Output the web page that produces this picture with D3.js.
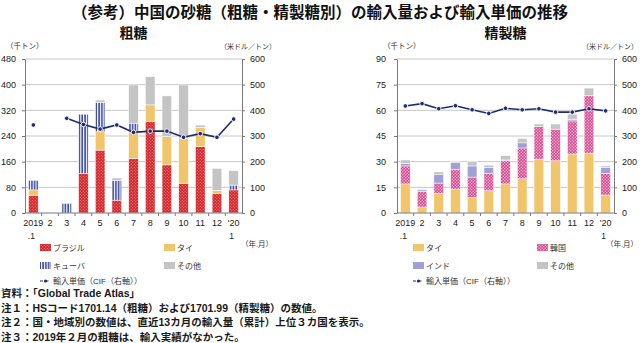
<!DOCTYPE html>
<html><head><meta charset="utf-8">
<script src="https://cdn.jsdelivr.net/npm/d3@7"></script>
<style>
body{margin:0;background:#fff}
svg{display:block;font-family:"Liberation Sans","Noto Sans CJK JP",sans-serif}
</style>
</head><body><svg width="640" height="343"></svg>
<script>
// ---------- DATA ----------
const months = ["2019.1","2","3","4","5","6","7","8","9","10","11","12","'20.1"];
const xLabelTop = ["2019","2","3","4","5","6","7","8","9","10","11","12","'20"];
const xLabelBottom = [".1","","","","","","","","","","","","1"];

// 粗糖 (千トン)
const rawBrazil = [55,0,0,124,196,40,170,285,150,93,207,61,72];
const rawThai   = [17,0,0,0,57,0,83,52,88,140,60,10,0];
const rawCuba   = [30,0,30,184,92,62,27,0,0,0,0,0,15];
const rawOther  = [0,0,0,0,7,7,119,88,127,166,7,68,45];
const rawPrice  = [343,null,369,345,327,343,314,319,319,295,309,295,366]; // 米ドル/トン

// 精製糖 (千トン)
const refThai  = [17,3.5,11.5,14,9,13,17,20,31.5,30.5,34.5,35,10.5];
const refKorea = [10.5,9,6,11.5,12,10,13.5,18,19,18.5,19.3,33.5,12.7];
const refIndia = [1.5,1,5,4,6.5,3.5,0.5,3,0,0,1,0,3.5];
const refOther = [2,0.5,1.5,0.5,2.5,1.5,2.5,2.5,1.5,3,3,4.5,0.8];
const refPrice = [417,426,406,418,402,388,408,402,406,393,393,406,398];

const rawLeftTicks = [0,80,160,240,320,400,480];
const refLeftTicks = [0,15,30,45,60,75,90];
const priceTicks = [0,100,200,300,400,500,600];

const notes = [
  "資料：「Global Trade Atlas」",
  "注１：HSコード1701.14（粗糖）および1701.99（精製糖）の数値。",
  "注２：国・地域別の数値は、直近13カ月の輸入量（累計）上位３カ国を表示。",
  "注３：2019年２月の粗糖は、輸入実績がなかった。"
];

// ---------- DRAW ----------
const svg = d3.select("svg");
const defs = svg.append("defs");
const COL = {thai:"#f1c56c", other:"#c4c4c4", india:"#9fa0d8", line:"#1f2d6e"};

let p = defs.append("pattern").attr("id","pBrazil").attr("width",3).attr("height",3).attr("patternUnits","userSpaceOnUse");
p.append("rect").attr("width",3).attr("height",3).attr("fill","#d3262b");
p.append("circle").attr("cx",0.75).attr("cy",0.75).attr("r",0.55).attr("fill","#f29a9a");
p.append("circle").attr("cx",2.25).attr("cy",2.25).attr("r",0.55).attr("fill","#f29a9a");

p = defs.append("pattern").attr("id","pKorea").attr("width",3).attr("height",3).attr("patternUnits","userSpaceOnUse");
p.append("rect").attr("width",3).attr("height",3).attr("fill","#d7428c");
p.append("circle").attr("cx",0.75).attr("cy",0.75).attr("r",0.7).attr("fill","#fbd3e6");
p.append("circle").attr("cx",2.25).attr("cy",2.25).attr("r",0.7).attr("fill","#fbd3e6");

p = defs.append("pattern").attr("id","pCuba").attr("width",2.8).attr("height",3).attr("patternUnits","userSpaceOnUse");
p.append("rect").attr("width",2.8).attr("height",3).attr("fill","#ffffff");
p.append("rect").attr("x",0.3).attr("width",1.5).attr("height",3).attr("fill","#2b3b9c");

const Y0 = 213, Y1 = 59;

function drawChart(opt){
  const g = svg.append("g");
  const x = d3.scaleBand().domain(months).range([opt.x0, opt.x1]).paddingInner(0.42).paddingOuter(0.21);
  const yL = d3.scaleLinear().domain([0, opt.lTicks[opt.lTicks.length-1]]).range([Y0, Y1]);
  const yR = d3.scaleLinear().domain([0, 600]).range([Y0, Y1]);

  // grid
  g.append("g").selectAll("line").data(opt.lTicks.filter(d=>d>0)).join("line")
    .attr("x1", opt.x0).attr("x2", opt.x1)
    .attr("y1", d=>yL(d)).attr("y2", d=>yL(d))
    .attr("stroke","#c6c6c6").attr("stroke-width",1);

  // stacked bars
  const rows = months.map((m,i)=>{
    const r = {month:m};
    opt.series.forEach(s=>r[s.key]=s.values[i]);
    return r;
  });
  const stacked = d3.stack().keys(opt.series.map(s=>s.key))(rows);
  stacked.forEach((layer,li)=>{
    g.append("g").selectAll("rect").data(layer.filter(d=>d[1]-d[0]>0)).join("rect")
      .attr("x", d=>x(d.data.month)).attr("width", x.bandwidth())
      .attr("y", d=>yL(d[1])).attr("height", d=>yL(d[0])-yL(d[1]))
      .attr("fill", opt.series[li].fill)
      .attr("stroke","#fff").attr("stroke-width",0.5);
  });

  // axes
  const ax = g.append("g").attr("transform",`translate(${opt.x0},0)`)
    .call(d3.axisLeft(yL).tickValues(opt.lTicks).tickSize(3).tickSizeOuter(0).tickPadding(opt.lPad));
  const axR = g.append("g").attr("transform",`translate(${opt.x1},0)`)
    .call(d3.axisRight(yR).tickValues(priceTicks).tickSize(3).tickSizeOuter(0).tickPadding(5));
  [ax,axR].forEach(a=>{
    a.select(".domain").attr("stroke","#7a7a7a");
    a.selectAll(".tick line").attr("stroke","#7a7a7a");
    a.selectAll("text").attr("font-size",9).attr("fill","#222")
      .attr("font-family","Liberation Sans, Arial, sans-serif");
  });

  // x axis line + ticks
  g.append("line").attr("x1",opt.x0).attr("x2",opt.x1).attr("y1",Y0).attr("y2",Y0).attr("stroke","#7a7a7a");
  const step = x.step();
  g.append("g").selectAll("line").data(months.slice(1)).join("line")
    .attr("x1", d=>x(d)-step*x.paddingInner()/2).attr("x2", d=>x(d)-step*x.paddingInner()/2)
    .attr("y1",Y0).attr("y2",Y0+3).attr("stroke","#7a7a7a");
  g.append("g").selectAll("text").data(months).join("text")
    .attr("x", d=>x(d)+x.bandwidth()/2).attr("y",226)
    .attr("text-anchor","middle").attr("font-size",9).attr("fill","#222")
    .text((d,i)=>xLabelTop[i]);
  g.append("g").selectAll("text").data(months).join("text")
    .attr("x", d=>x(d)+x.bandwidth()/2 - 2).attr("y",239)
    .attr("text-anchor","middle").attr("font-size",8.5).attr("fill","#222")
    .text((d,i)=>xLabelBottom[i]);

  // unit labels
  g.append("text").attr("x",opt.unitL).attr("y",49).attr("font-size",7.5).attr("fill","#333").text("（千トン）");
  g.append("text").attr("x",opt.unitRX).attr("y",49).attr("font-size",7).attr("fill","#333")
    .attr("text-anchor",opt.unitAnchor).text("（米ドル／トン）");
  g.append("text").attr("x",opt.ymX).attr("y",247).attr("font-size",7.5).attr("fill","#333")
    .attr("text-anchor",opt.unitAnchor).text("（年.月）");

  // subtitle
  g.append("text").attr("x",(opt.x0+opt.x1)/2).attr("y",38).attr("text-anchor","middle")
    .attr("font-size",14).attr("font-weight","bold").attr("fill","#111")
    .attr("font-family","Noto Sans CJK JP, sans-serif").text(opt.title);

  // price line
  const pts = months.map((m,i)=>({m, v:opt.price[i]}));
  g.append("path").datum(pts)
    .attr("d", d3.line().defined(d=>d.v!=null).x(d=>x(d.m)+x.bandwidth()/2).y(d=>yR(d.v)))
    .attr("fill","none").attr("stroke",COL.line).attr("stroke-width",1.6);
  g.append("g").selectAll("circle").data(pts.filter(d=>d.v!=null)).join("circle")
    .attr("cx", d=>x(d.m)+x.bandwidth()/2).attr("cy", d=>yR(d.v)).attr("r",2.3)
    .attr("fill",COL.line).attr("stroke","#fff").attr("stroke-width",0.9);

  // legend
  const lg = g.append("g").attr("font-size",8).attr("fill","#333");
  opt.legend.forEach((s,i)=>{
    const lx = opt.legX + (i%2)*124, ly = 244 + Math.floor(i/2)*18;
    lg.append("rect").attr("x",lx).attr("y",ly).attr("width",11).attr("height",7).attr("fill",s.fill);
    lg.append("text").attr("x",lx+13).attr("y",ly+7).text(s.name);
  });
  const ly3 = 281;
  lg.append("line").attr("x1",opt.legX).attr("x2",opt.legX+11).attr("y1",ly3).attr("y2",ly3)
    .attr("stroke",COL.line).attr("stroke-width",1.2).attr("stroke-dasharray","3,2.5");
  lg.append("circle").attr("cx",opt.legX+5.5).attr("cy",ly3).attr("r",1.6).attr("fill",COL.line);
  lg.append("text").attr("x",opt.legX+13).attr("y",ly3+3).text("輸入単価（CIF（右軸））");
}

drawChart({
  x0:25, x1:242, lTicks:rawLeftTicks, lPad:6, unitL:6, title:"粗糖", price:rawPrice, legX:40,
  unitRX:248, ymX:257, unitAnchor:"middle",
  series:[
    {key:"brazil", name:"ブラジル", values:rawBrazil, fill:"url(#pBrazil)"},
    {key:"thai", name:"タイ", values:rawThai, fill:COL.thai},
    {key:"cuba", name:"キューバ", values:rawCuba, fill:"url(#pCuba)"},
    {key:"other", name:"その他", values:rawOther, fill:COL.other}
  ],
  legend:[
    {name:"ブラジル", fill:"url(#pBrazil)"},{name:"タイ", fill:COL.thai},
    {name:"キューバ", fill:"url(#pCuba)"},{name:"その他", fill:COL.other}
  ]
});
drawChart({
  x0:397, x1:614, lTicks:refLeftTicks, lPad:8, unitL:383, title:"精製糖", price:refPrice, legX:413,
  unitRX:638, ymX:638, unitAnchor:"end",
  series:[
    {key:"thai", name:"タイ", values:refThai, fill:COL.thai},
    {key:"korea", name:"韓国", values:refKorea, fill:"url(#pKorea)"},
    {key:"india", name:"インド", values:refIndia, fill:COL.india},
    {key:"other", name:"その他", values:refOther, fill:COL.other}
  ],
  legend:[
    {name:"タイ", fill:COL.thai},{name:"韓国", fill:"url(#pKorea)"},
    {name:"インド", fill:COL.india},{name:"その他", fill:COL.other}
  ]
});

// title
svg.append("text").attr("x",320).attr("y",18).attr("text-anchor","middle")
  .attr("font-size",15.5).attr("font-weight","bold").attr("fill","#111")
  .attr("font-family","Noto Sans CJK JP, sans-serif")
  .text("（参考）中国の砂糖（粗糖・精製糖別）の輸入量および輸入単価の推移");

// notes
svg.append("g").selectAll("text").data(notes).join("text")
  .attr("x",1).attr("y",(d,i)=>297+i*14.7)
  .attr("font-size",10.5).attr("fill","#1a1a1a").attr("font-weight","bold")
  .text(d=>d);
</script>
</body></html>
